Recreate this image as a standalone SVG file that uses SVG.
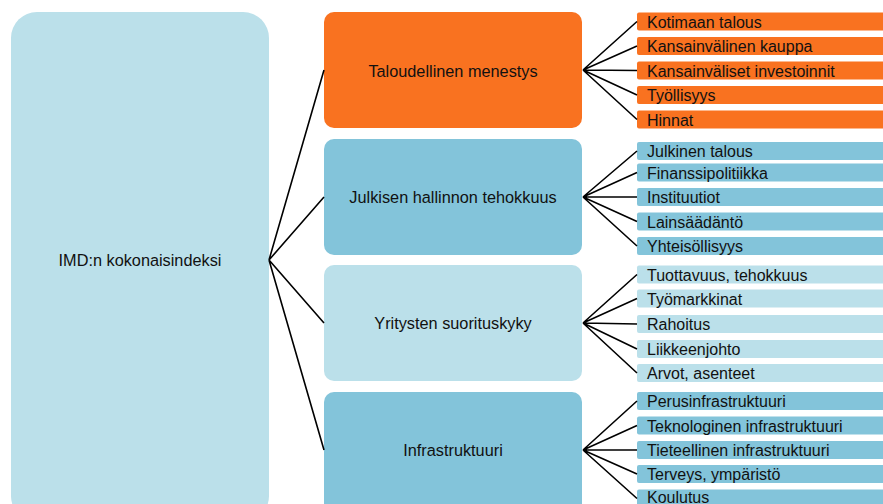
<svg xmlns="http://www.w3.org/2000/svg" width="883" height="504" viewBox="0 0 883 504">
<style>
text{font-family:"Liberation Sans",Arial,sans-serif;fill:#111;}
.big{font-size:16.3px;text-anchor:middle;}
.leaf{font-size:16px;}
.o{fill:#F97220;}
.m{fill:#83C4DA;}
.l{fill:#BBE0EA;}
.c{stroke:#000;stroke-width:1.6;fill:none;}
</style>
<rect width="883" height="504" fill="#fff"/>
<g id="root"><rect class="l" x="11" y="12" width="258" height="510" rx="26"/><text class="big" x="140" y="266">IMD:n kokonaisindeksi</text></g>
<g id="n1"><rect class="o" x="324" y="12" width="258" height="116" rx="10"/><text class="big" x="453" y="77">Taloudellinen menestys</text></g>
<g id="n2"><rect class="m" x="324" y="139" width="258" height="116" rx="10"/><text class="big" x="453" y="203">Julkisen hallinnon tehokkuus</text></g>
<g id="n3"><rect class="l" x="324" y="265" width="258" height="116" rx="10"/><text class="big" x="453" y="329">Yritysten suorituskyky</text></g>
<g id="n4"><rect class="m" x="324" y="392" width="258" height="130" rx="10"/><text class="big" x="453" y="456">Infrastruktuuri</text></g>
<g id="l1a"><rect class="o" x="637" y="12.5" width="260" height="18" rx="2"/><text class="leaf" x="647" y="27.5">Kotimaan talous</text></g>
<g id="l1b"><rect class="o" x="637" y="37" width="260" height="18" rx="2"/><text class="leaf" x="647" y="52">Kansainvälinen kauppa</text></g>
<g id="l1c"><rect class="o" x="637" y="61.5" width="260" height="18" rx="2"/><text class="leaf" x="647" y="76.5">Kansainväliset investoinnit</text></g>
<g id="l1d"><rect class="o" x="637" y="86" width="260" height="18" rx="2"/><text class="leaf" x="647" y="101">Työllisyys</text></g>
<g id="l1e"><rect class="o" x="637" y="110.5" width="260" height="18" rx="2"/><text class="leaf" x="647" y="125.5">Hinnat</text></g>
<g id="l2a"><rect class="m" x="637" y="142" width="260" height="18" rx="2"/><text class="leaf" x="647" y="157">Julkinen talous</text></g>
<g id="l2b"><rect class="m" x="637" y="163.5" width="260" height="18" rx="2"/><text class="leaf" x="647" y="178.5">Finanssipolitiikka</text></g>
<g id="l2c"><rect class="m" x="637" y="188" width="260" height="18" rx="2"/><text class="leaf" x="647" y="203">Instituutiot</text></g>
<g id="l2d"><rect class="m" x="637" y="212.5" width="260" height="18" rx="2"/><text class="leaf" x="647" y="227.5">Lainsäädäntö</text></g>
<g id="l2e"><rect class="m" x="637" y="237" width="260" height="18" rx="2"/><text class="leaf" x="647" y="252">Yhteisöllisyys</text></g>
<g id="l3a"><rect class="l" x="637" y="265.5" width="260" height="18" rx="2"/><text class="leaf" x="647" y="280.5">Tuottavuus, tehokkuus</text></g>
<g id="l3b"><rect class="l" x="637" y="289.5" width="260" height="18" rx="2"/><text class="leaf" x="647" y="304.5">Työmarkkinat</text></g>
<g id="l3c"><rect class="l" x="637" y="315" width="260" height="18" rx="2"/><text class="leaf" x="647" y="330">Rahoitus</text></g>
<g id="l3d"><rect class="l" x="637" y="340" width="260" height="18" rx="2"/><text class="leaf" x="647" y="355">Liikkeenjohto</text></g>
<g id="l3e"><rect class="l" x="637" y="364" width="260" height="18" rx="2"/><text class="leaf" x="647" y="379">Arvot, asenteet</text></g>
<g id="l4a"><rect class="m" x="637" y="392" width="260" height="18" rx="2"/><text class="leaf" x="647" y="407">Perusinfrastruktuuri</text></g>
<g id="l4b"><rect class="m" x="637" y="416.5" width="260" height="18" rx="2"/><text class="leaf" x="647" y="431.5">Teknologinen infrastruktuuri</text></g>
<g id="l4c"><rect class="m" x="637" y="441" width="260" height="18" rx="2"/><text class="leaf" x="647" y="456">Tieteellinen infrastruktuuri</text></g>
<g id="l4d"><rect class="m" x="637" y="465" width="260" height="18" rx="2"/><text class="leaf" x="647" y="480">Terveys, ympäristö</text></g>
<g id="l4e"><rect class="m" x="637" y="489.5" width="260" height="18" rx="2"/><text class="leaf" x="647" y="503">Koulutus</text></g>
<g id="connectors">
<path class="c" d="M269 260L324 70M269 260L324 197M269 260L324 323M269 260L324 450"/>
<path class="c" d="M583 70L637 21.5M583 70L637 46M583 70L637 70.5M583 70L637 95M583 70L637 119.5"/>
<path class="c" d="M583 197L637 151M583 197L637 172.5M583 197L637 197M583 197L637 221.5M583 197L637 246"/>
<path class="c" d="M583 323L637 274.5M583 323L637 298.5M583 323L637 324M583 323L637 349M583 323L637 373"/>
<path class="c" d="M583 450L637 401M583 450L637 425.5M583 450L637 450M583 450L637 474M583 450L637 498.5"/>
</g>
</svg>
